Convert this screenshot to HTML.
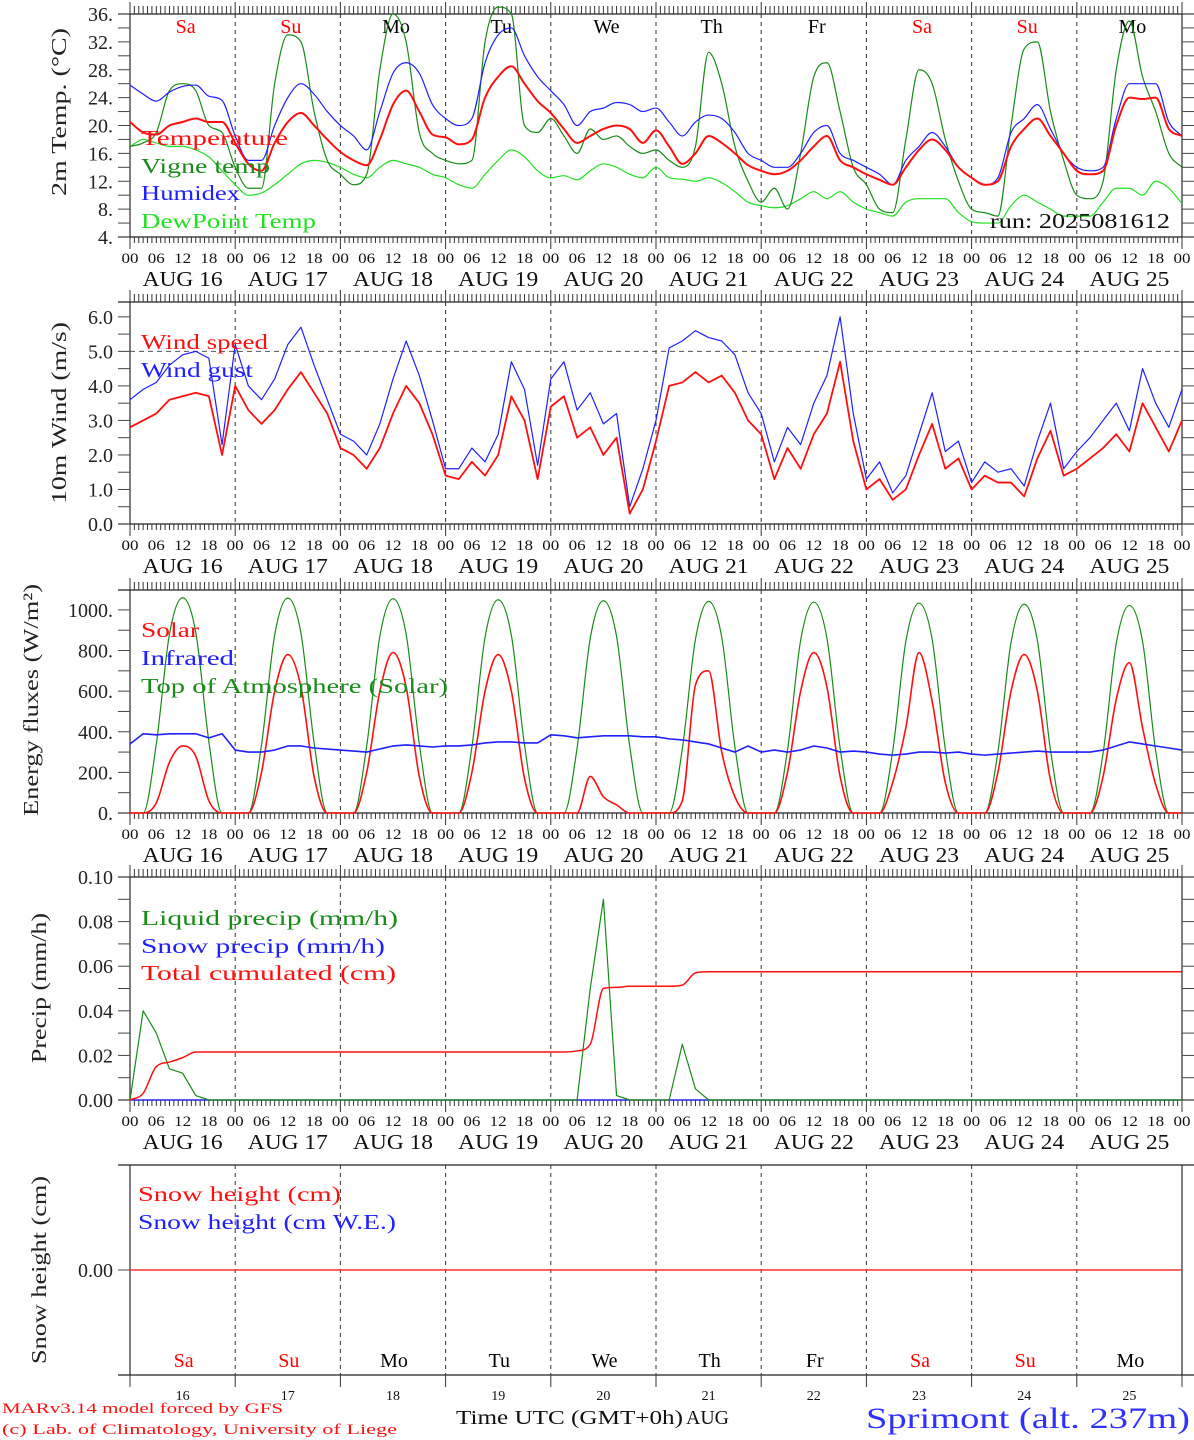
<!DOCTYPE html>
<html><head><meta charset="utf-8"><style>
html,body{margin:0;padding:0;background:#fff;}
svg{display:block;font-family:"Liberation Serif",serif;}
</style></head><body>
<svg id="chart" width="1194" height="1440" viewBox="0 0 1194 1440" xmlns="http://www.w3.org/2000/svg"></svg>
<script>
// ---- data (3-hourly from AUG 16 00 UTC to AUG 26 00 UTC) ----
const days = ["16","17","18","19","20","21","22","23","24","25"];
const dayNames = ["Sa","Su","Mo","Tu","We","Th","Fr","Sa","Su","Mo"];
const dayColors = ["red","red","black","black","black","black","black","red","red","black"];
const temperature = [20.5,19,18.7,20,20.5,21,20.5,20.5, 17.5,14.5,13.5,17.5,20.5,21.8,20,18, 16.2,15,14.3,18,23,25,22,18.7, 18.3,17.3,18,24,27,28.5,26,23.5, 21.8,19.5,17.5,18.5,19.5,20,19.5,17.5, 19.3,17,14.5,16,18.5,17.5,16,14.3, 13.5,13,13.5,15,17,18.5,15,14, 13,12.2,11.5,14,16.5,18,16.5,14, 12.5,11.5,12,17,19.5,21,18.5,16, 13.5,13,13.5,20,24,23.8,24,19.5, 18.5];
const humidex = [25.8,24.5,23.5,24.8,25.6,25.8,24.2,23.6, 18.5,15,15,20,24,26,24.5,22, 20,18.5,16.5,22,27.5,29,27.5,23, 21,20,21,29,33,34,30,27, 25,23,20,22,22.5,23.3,23,22, 22.5,20.5,18.5,20.5,21.5,21,19,16, 15,14,14,16,19,20,16,15, 14,13,11.5,15,17,19,17,14, 12.5,11.5,12.5,19,21,23,19.5,16, 14,13.5,14,21,26,26,26,20.5, 18.5];
const vigneTemp = [17,17.5,19,25,26,25,20,19, 14,11,11,26,33,32,22,15, 13,11.5,13,28,36,32,19,16, 15,14.5,15,32,37,36,20,19, 21,18.5,16,19.5,18,18.5,17,16, 16.5,15,14,17,30.5,26,17,12, 9,11,8,16,27,29,22,14, 11.5,8,7.5,18,28,26,18,12, 8,7.5,7,20,31,32,22,15, 10,9.5,12,28,35,27,22,16, 14];
const dewPoint = [17,18,17.5,17,17,16.5,15.5,13.5, 11.5,10,10.3,11.5,13,14.5,15,14.7, 14,13,12.5,14,15,14.5,14,13, 12.5,11.5,11,13,15,16.5,15.5,13.5, 12.5,12.8,12.2,13.5,14.5,14,13,12.5, 14,12.5,12.3,12,12.5,11.8,10.5,9, 8.5,8.2,8.5,9.5,10.5,9.5,10.5,9, 8,7.5,7,9,9.5,9.5,9.5,7.5, 6.2,6,6,8.5,10,9,8,7, 7,7,9,11,11,10,12,11, 8.8];
const windSpeed = [2.8,3.0,3.2,3.6,3.7,3.8,3.7,2.0, 4.0,3.3,2.9,3.3,3.9,4.4,3.8,3.2, 2.2,2.0,1.6,2.2,3.2,4.0,3.5,2.6, 1.4,1.3,1.8,1.4,2.0,3.7,3.0,1.3, 3.4,3.7,2.5,2.8,2.0,2.5,0.3,1.0, 2.4,4.0,4.1,4.4,4.1,4.3,3.8,3.0, 2.6,1.3,2.2,1.6,2.6,3.2,4.7,2.4, 1.0,1.3,0.7,1.0,2.0,2.9,1.6,1.9, 1.0,1.4,1.2,1.2,0.8,1.9,2.7,1.4, 1.6,1.9,2.2,2.6,2.1,3.5,2.8,2.1, 3.0];
const windGust = [3.6,3.9,4.1,4.6,4.9,5.0,4.8,2.3, 5.2,4.0,3.6,4.2,5.2,5.7,4.6,3.6, 2.6,2.4,2.0,2.9,4.2,5.3,4.3,3.0, 1.6,1.6,2.2,1.8,2.6,4.7,3.9,1.7, 4.2,4.7,3.3,3.8,2.9,3.2,0.5,1.6, 3.0,5.1,5.3,5.6,5.4,5.3,4.9,3.8, 3.2,1.8,2.8,2.3,3.5,4.3,6.0,3.2, 1.3,1.8,0.9,1.4,2.6,3.8,2.1,2.4, 1.2,1.8,1.5,1.6,1.1,2.4,3.5,1.6, 2.1,2.5,3.0,3.5,2.7,4.5,3.5,2.8, 3.9];
const solar = [0,0,50,250,330,280,60,0, 0,0,200,600,780,620,180,0, 0,0,200,600,790,620,180,0, 0,0,200,600,780,600,170,0, 0,0,0,180,80,40,0,0, 0,0,60,630,700,300,80,0, 0,0,200,600,790,620,180,0, 0,0,150,420,790,550,150,0, 0,0,200,600,780,600,160,0, 0,0,180,560,740,420,140,0, 0];
const infrared = [340,390,385,390,390,390,370,390, 310,300,300,310,330,330,320,315, 310,305,300,315,330,335,330,325, 330,330,335,345,350,350,345,345, 385,380,370,375,380,380,380,375, 375,365,360,350,340,320,300,330, 300,310,300,310,330,320,300,305, 300,290,285,290,300,300,295,300, 290,285,290,295,300,305,300,300, 300,300,310,330,350,340,330,320, 310];
const topOfAtmosphere = [0,0,340,880,1060,890,350,0, 0,0,335,875,1058,885,345,0, 0,0,330,870,1055,880,340,0, 0,0,325,865,1050,875,335,0, 0,0,320,860,1045,870,330,0, 0,0,315,855,1042,865,325,0, 0,0,310,850,1038,860,320,0, 0,0,305,845,1033,855,315,0, 0,0,300,840,1028,850,310,0, 0,0,295,835,1022,845,305,0, 0];
const liquidPrecip = [0,0.04,0.03,0.014,0.012,0.002,0,0, 0,0,0,0,0,0,0,0, 0,0,0,0,0,0,0,0, 0,0,0,0,0,0,0,0, 0,0,0,0.05,0.09,0.002,0,0, 0,0,0.025,0.005,0,0,0,0, 0,0,0,0,0,0,0,0, 0,0,0,0,0,0,0,0, 0,0,0,0,0,0,0,0, 0,0,0,0,0,0,0,0, 0];
const snowPrecip = [0,0,0,0,0,0,0,0, 0,0,0,0,0,0,0,0, 0,0,0,0,0,0,0,0, 0,0,0,0,0,0,0,0, 0,0,0,0,0,0,0,0, 0,0,0,0,0,0,0,0, 0,0,0,0,0,0,0,0, 0,0,0,0,0,0,0,0, 0,0,0,0,0,0,0,0, 0,0,0,0,0,0,0,0, 0];
const totalCumulated = [0,0.003,0.015,0.017,0.019,0.0215,0.0215,0.0215, 0.0215,0.0215,0.0215,0.0215,0.0215,0.0215,0.0215,0.0215, 0.0215,0.0215,0.0215,0.0215,0.0215,0.0215,0.0215,0.0215, 0.0215,0.0215,0.0215,0.0215,0.0215,0.0215,0.0215,0.0215, 0.0215,0.0215,0.022,0.025,0.050,0.0505,0.051,0.051, 0.051,0.051,0.0515,0.057,0.0575,0.0575,0.0575,0.0575, 0.0575,0.0575,0.0575,0.0575,0.0575,0.0575,0.0575,0.0575, 0.0575,0.0575,0.0575,0.0575,0.0575,0.0575,0.0575,0.0575, 0.0575,0.0575,0.0575,0.0575,0.0575,0.0575,0.0575,0.0575, 0.0575,0.0575,0.0575,0.0575,0.0575,0.0575,0.0575,0.0575, 0.0575];
const snowHeight = [0,0,0,0,0,0,0,0, 0,0,0,0,0,0,0,0, 0,0,0,0,0,0,0,0, 0,0,0,0,0,0,0,0, 0,0,0,0,0,0,0,0, 0,0,0,0,0,0,0,0, 0,0,0,0,0,0,0,0, 0,0,0,0,0,0,0,0, 0,0,0,0,0,0,0,0, 0,0,0,0,0,0,0,0, 0];
const tempTicks = ["4.","8.","12.","16.","20.","24.","28.","32.","36."];
const windTicks = ["0.0","1.0","2.0","3.0","4.0","5.0","6.0"];
const fluxTicks = ["0.","200.","400.","600.","800.","1000."];
const precipTicks = ["0.00","0.02","0.04","0.06","0.08","0.10"];

// ---- drawing ----
const svg = document.getElementById('chart');
const NS = "http://www.w3.org/2000/svg";
const X0 = 130, X1 = 1182, STEP = 3;
function xOf(h){ return X0 + h/240*(X1-X0); }
function mk(tag, attrs, parent){
  const e = document.createElementNS(NS, tag);
  for (const k in attrs) e.setAttribute(k, attrs[k]);
  (parent||svg).appendChild(e);
  return e;
}
function txt(str, x, y, size, color, anchor, len, parent){
  const t = mk('text', {x:x, y:y, 'font-size':size, fill:color, 'text-anchor':anchor||'start'}, parent);
  if (len){ t.setAttribute('textLength', len); t.setAttribute('lengthAdjust','spacingAndGlyphs'); }
  t.textContent = str;
  return t;
}
function line(x1,y1,x2,y2,color,w,dash,parent){
  const l = mk('line',{x1:x1,y1:y1,x2:x2,y2:y2,stroke:color,'stroke-width':w||1},parent);
  if (dash) l.setAttribute('stroke-dasharray',dash);
  return l;
}
function scale(top,bottom,min,max){ return v => bottom-(v-min)/(max-min)*(bottom-top); }
// monotone cubic path (Fritsch-Carlson)
function smoothPath(px, py){
  const n = px.length, d = [], m = new Array(n);
  for (let i=0;i<n-1;i++) d.push((py[i+1]-py[i])/(px[i+1]-px[i]));
  m[0]=d[0]; m[n-1]=d[n-2];
  for (let i=1;i<n-1;i++){ m[i] = (d[i-1]*d[i] <= 0) ? 0 : (d[i-1]+d[i])/2; }
  for (let i=0;i<n-1;i++){
    if (d[i]===0){ m[i]=0; m[i+1]=0; continue; }
    const a=m[i]/d[i], b=m[i+1]/d[i], s=a*a+b*b;
    if (s>9){ const t=3/Math.sqrt(s); m[i]=t*a*d[i]; m[i+1]=t*b*d[i]; }
  }
  let p = 'M'+px[0].toFixed(2)+' '+py[0].toFixed(2);
  for (let i=0;i<n-1;i++){
    const h=px[i+1]-px[i];
    p += 'C'+(px[i]+h/3).toFixed(2)+' '+(py[i]+m[i]*h/3).toFixed(2)+' '+(px[i+1]-h/3).toFixed(2)+' '+(py[i+1]-m[i+1]*h/3).toFixed(2)+' '+px[i+1].toFixed(2)+' '+py[i+1].toFixed(2);
  }
  return p;
}
function series(arr, ys, color, w, name, g, smooth){
  let d = '';
  if (smooth){
    d = smoothPath(arr.map((v,i)=>xOf(i*STEP)), arr.map(v=>ys(v)));
  } else {
    arr.forEach((v,i)=>{ d += (i?'L':'M') + xOf(i*STEP).toFixed(2) + ' ' + ys(v).toFixed(2); });
  }
  const p = mk('path',{d:d, fill:'none', stroke:color, 'stroke-width':w, 'stroke-linejoin':'round'}, g);
  
  
  return p;
}
function frame(top,bottom,name,opts){
  const g = mk('g',{});
  
  
  line(X0,top,X0,bottom,'#555',1.5,null,g);
  line(X1,top,X1,bottom,'#555',1.5,null,g);
  line(118,top,1194,top,'#222',1.2,null,g);
  line(118,bottom,1194,bottom,'#222',1.2,null,g);
  for (let k=1;k<10;k++){ const x=xOf(k*24); line(x,top,x,bottom,'#333',1,'4,4',g); }
  if (opts.ticks){
    for (let h=0; h<=240; h++){
      const x = xOf(h), big = h%24===0;
      line(x,top-(big?12:8),x,top,'#333',1,null,g);
      line(x,bottom,x,bottom+(big?12:6),'#333',1,null,g);
    }
    for (let h=0; h<=240; h+=6){
      txt(String(h%24).padStart(2,'0'), xOf(h), bottom+26, 15, '#111', 'middle', 17, g);
    }
    days.forEach((d,i)=> txt('AUG '+d, xOf(i*24+12), bottom+49, 21, '#111', 'middle', 80, g));
  }
  return g;
}
function yAxis(ys, vals, labels, minorStep, min, max, g){
  for (let v=min; v<=max+1e-9; v+=minorStep){
    line(118, ys(v), X0, ys(v), '#444', 1, null, g);
    line(X1, ys(v), 1194, ys(v), '#444', 1, null, g);
  }
  vals.forEach((v,i)=> txt(labels[i], 113, ys(v)+7, 20, '#222', 'end', null, g));
}
function ytitle(str, x, y, len){
  const t = txt(str, 0, 0, 21, '#222', 'middle', len);
  t.setAttribute('transform', 'translate('+x+','+y+') rotate(-90)');
  
  
}
function legend(str, x, y, color, len, name){
  const t = txt(str, x, y, 21, color, 'start', len);
  
  
}

// Panel 1: temperature
{
  const top=14, bottom=237, ys=scale(top,bottom,4,36);
  const g = frame(top,bottom,'temperature-panel',{ticks:true});
  yAxis(ys,[4,8,12,16,20,24,28,32,36],tempTicks,2,4,36,g);
  dayNames.forEach((n,i)=>{ const t=txt(n, xOf(i*24+12)+3, 33, 20, dayColors[i], 'middle', null, g);
      });
  series(dewPoint, ys, '#22e022', 1.2, 'dewpoint-line', g, true);
  series(vigneTemp, ys, '#1a8a1a', 1.2, 'vigne-temp-line', g, true);
  series(humidex, ys, '#2020ff', 1.2, 'humidex-line', g, true);
  series(temperature, ys, '#ff1010', 2, 'temperature-line', g, true);
  ytitle('2m Temp. (°C)', 66, 112, 168);
  legend('Temperature',141,145,'#ff1010',147,'legend-temperature');
  legend('Vigne temp',141,173,'#1a8a1a',129,'legend-vigne-temp');
  legend('Humidex',141,200,'#2020ff',99,'legend-humidex');
  legend('DewPoint Temp',141,228,'#22e022',175,'legend-dewpoint');
  const r = txt('run: 2025081612', 1170, 228, 21, '#111', 'end', 180, g);
   
}
// Panel 2: wind
{
  const top=302, bottom=524, ys=scale(top,bottom,0,6.43);
  const g = frame(top,bottom,'wind-panel',{ticks:true});
  yAxis(ys,[0,1,2,3,4,5,6],windTicks,0.5,0,6,g);
  line(X0,ys(5),X1,ys(5),'#555',1,'5,4',g);
  series(windGust, ys, '#2020ff', 1.2, 'wind-gust-line', g);
  series(windSpeed, ys, '#ff1010', 1.8, 'wind-speed-line', g);
  ytitle('10m Wind (m/s)', 66, 413, 182);
  legend('Wind speed',141,349,'#ff1010',127,'legend-wind-speed');
  legend('Wind gust',141,377,'#2020ff',112,'legend-wind-gust');
}
// Panel 3: energy fluxes
{
  const top=590, bottom=813, ys=scale(top,bottom,0,1098);
  const g = frame(top,bottom,'energy-panel',{ticks:true});
  yAxis(ys,[0,200,400,600,800,1000],fluxTicks,100,0,1000,g);
  series(topOfAtmosphere, ys, '#1a8a1a', 1.2, 'toa-solar-line', g, true);
  series(solar, ys, '#ff1010', 1.6, 'solar-line', g, true);
  series(infrared, ys, '#2020ff', 1.6, 'infrared-line', g);
  ytitle('Energy fluxes (W/m²)', 38, 700, 232);
  legend('Solar',141,637,'#ff1010',58,'legend-solar');
  legend('Infrared',141,665,'#2020ff',93,'legend-infrared');
  legend('Top of Atmosphere (Solar)',141,693,'#1a8a1a',307,'legend-toa');
}
// Panel 4: precip
{
  const top=877, bottom=1100, ys=scale(top,bottom,0,0.1);
  const g = frame(top,bottom,'precip-panel',{ticks:true});
  yAxis(ys,[0,0.02,0.04,0.06,0.08,0.1],precipTicks,0.01,0,0.1,g);
  series(snowPrecip, ys, '#2020ff', 1.2, 'snow-precip-line', g);
  series(liquidPrecip, ys, '#1a8a1a', 1.2, 'liquid-precip-line', g);
  series(totalCumulated, ys, '#ff1010', 1.5, 'total-cumulated-line', g, true);
  ytitle('Precip (mm/h)', 46, 988, 150);
  legend('Liquid precip (mm/h)',141,925,'#1a8a1a',257,'legend-liquid-precip');
  legend('Snow precip (mm/h)',141,953,'#2020ff',244,'legend-snow-precip');
  legend('Total cumulated (cm)',141,980,'#ff1010',255,'legend-total-cumulated');
}
// Panel 5: snow height
{
  const top=1165, bottom=1375, ys=v=>1270-v*1000;
  const g = frame(top,bottom,'snow-panel',{ticks:false});
  line(118,1270,X0,1270,'#444',1,null,g);
  txt('0.00',113,1277,20,'#222','end',null,g);
  series(snowHeight, ys, '#ff3030', 1.6, 'snow-height-line', g);
  ytitle('Snow height (cm)', 46, 1270, 188);
  legend('Snow height (cm)',138,1201,'#ff1010',203,'legend-snow-height');
  legend('Snow height (cm W.E.)',138,1229,'#2020ff',258,'legend-snow-height-we');
  dayNames.forEach((n,i)=>{ const t=txt(n, xOf(i*24+12)+1, 1367, 20, dayColors[i], 'middle', null, g);
      });
  days.forEach((d,i)=>{ const x=xOf(i*24+12); line(xOf(i*24),1375,xOf(i*24),1387,'#333',1,null,g);
    txt(d, x, 1400, 14, '#111', 'middle', null, g); });
  line(X1,1375,X1,1387,'#333',1,null,g);
}
// footer
{
  const a = txt('MARv3.14 model forced by GFS', 2, 1413, 15, '#ff1010', 'start', 281);
   
  const b = txt('(c) Lab. of Climatology, University of Liege', 2, 1434, 15, '#ff1010', 'start', 395);
   
  const c = txt('Time UTC (GMT+0h)', 456, 1424, 20, '#111', 'start', 227);
   
  const d = txt('AUG', 686, 1424, 20, '#111', 'start', 43);
   
  const e = txt('Sprimont (alt. 237m)', 866, 1428, 30, '#3030ff', 'start', 324);
   
}
</script>
</body></html>
